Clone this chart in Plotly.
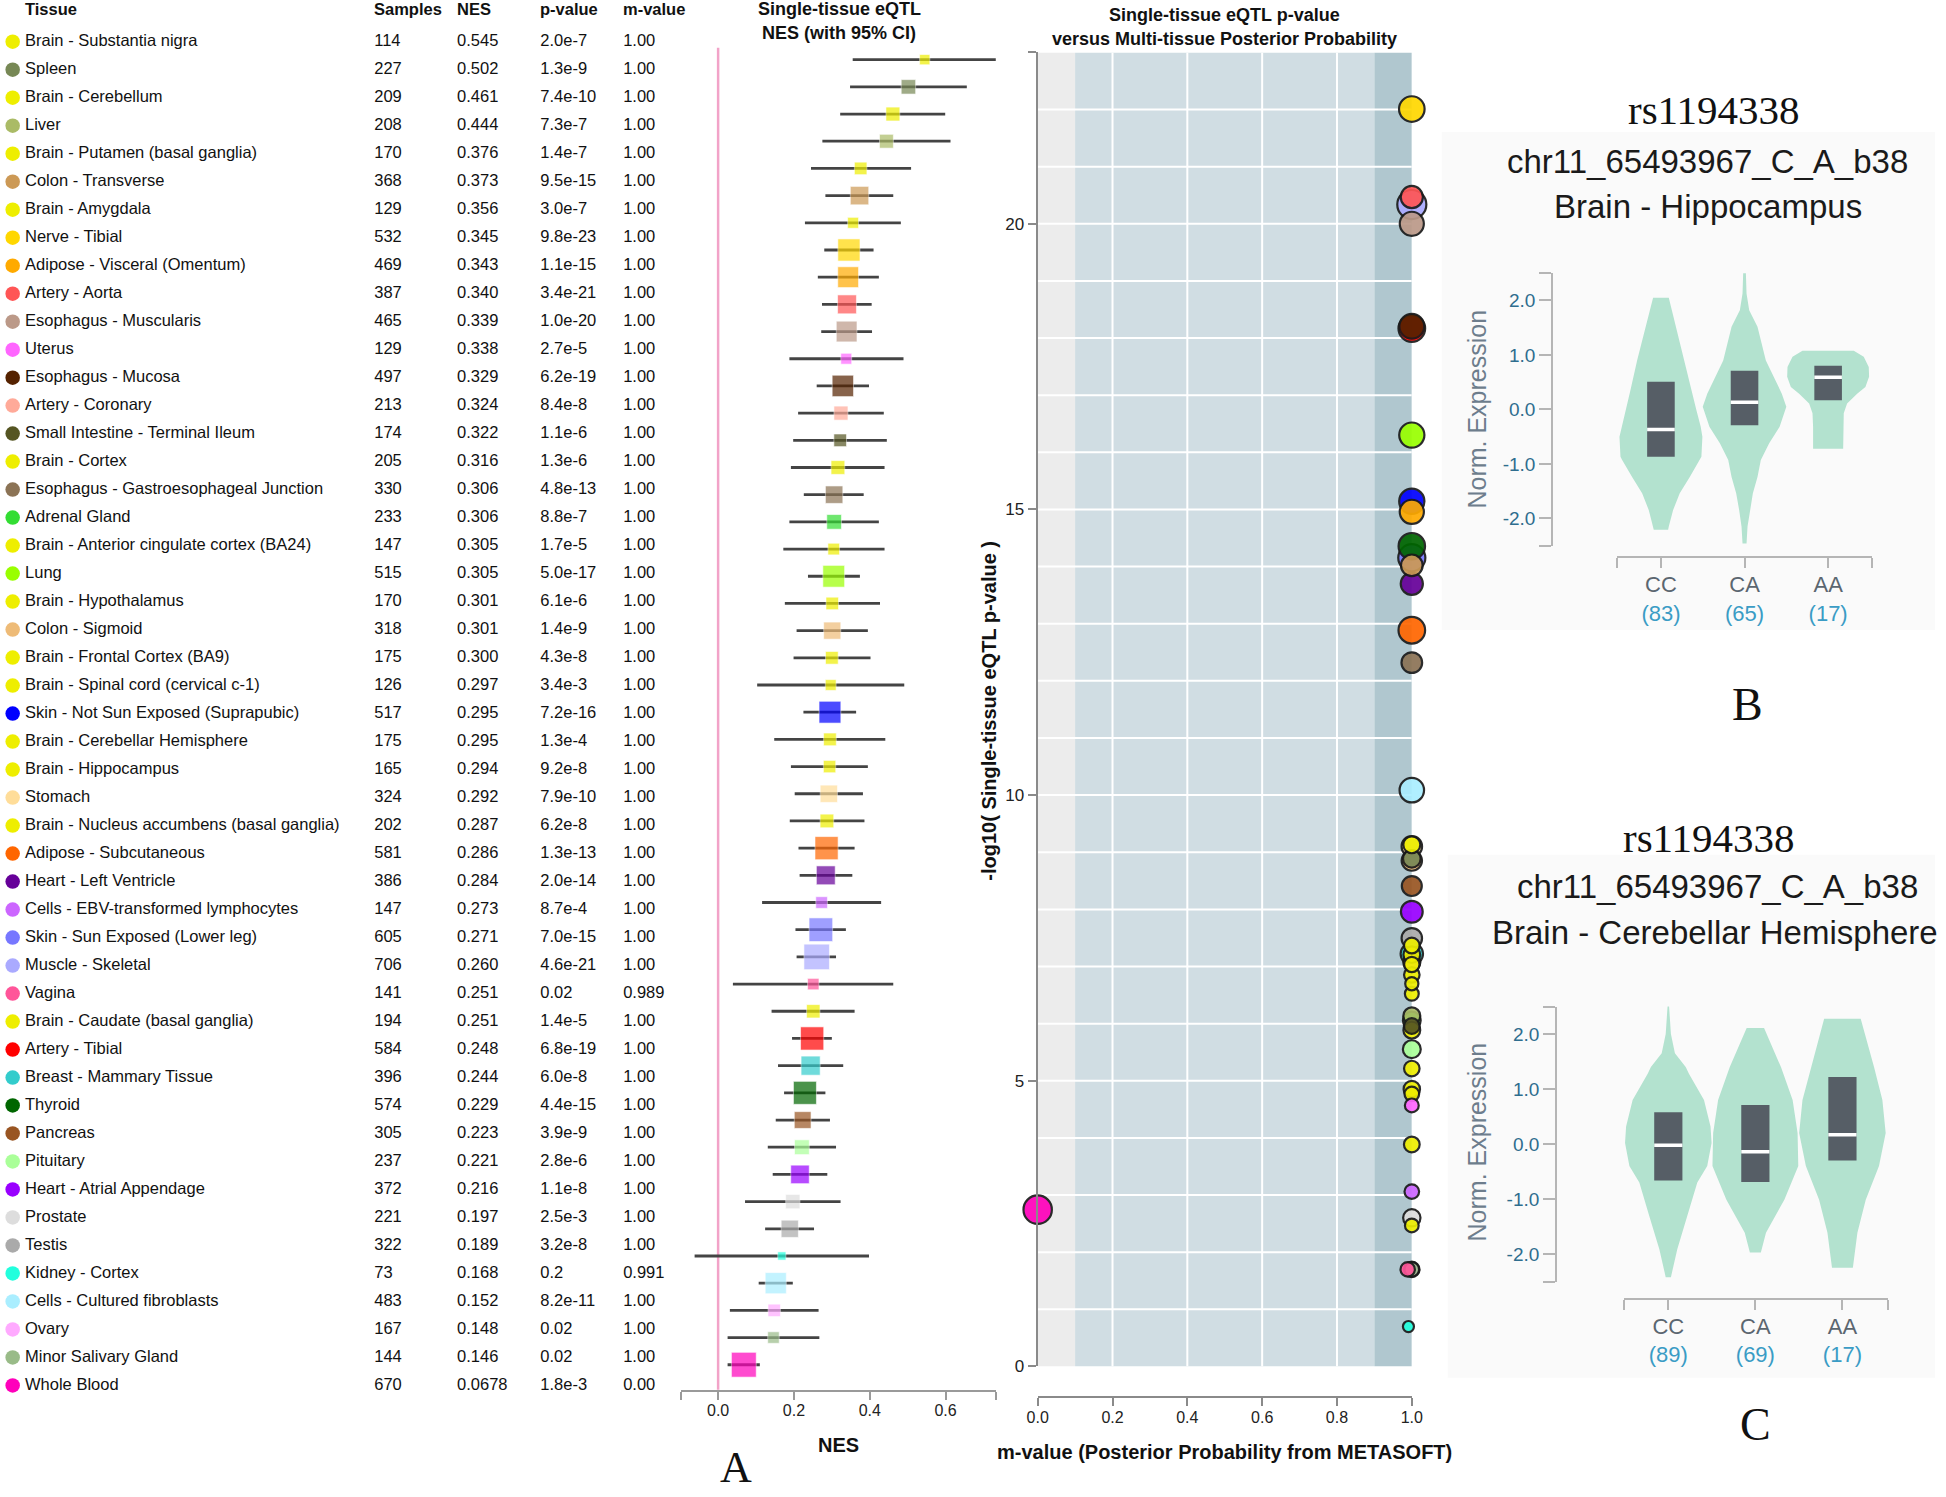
import math
import plotly.graph_objects as go

W, H = 1946, 1497
# empirical correction for how the page is captured (small margin + rescale)
SX, OX, SY = 0.991, 8.0, 0.9935
def px(x): return (x / SX - OX) / W
def py(y): return 1 - (y / SY) / H

FONT = "Arial, Liberation Sans, sans-serif"
SERIF = "Times New Roman, Liberation Serif, serif"

# ---------------- data ----------------
tissues = [
    "Brain - Substantia nigra", "Spleen", "Brain - Cerebellum", "Liver",
    "Brain - Putamen (basal ganglia)", "Colon - Transverse", "Brain - Amygdala",
    "Nerve - Tibial", "Adipose - Visceral (Omentum)", "Artery - Aorta",
    "Esophagus - Muscularis", "Uterus", "Esophagus - Mucosa", "Artery - Coronary",
    "Small Intestine - Terminal Ileum", "Brain - Cortex",
    "Esophagus - Gastroesophageal Junction", "Adrenal Gland",
    "Brain - Anterior cingulate cortex (BA24)", "Lung", "Brain - Hypothalamus",
    "Colon - Sigmoid", "Brain - Frontal Cortex (BA9)",
    "Brain - Spinal cord (cervical c-1)", "Skin - Not Sun Exposed (Suprapubic)",
    "Brain - Cerebellar Hemisphere", "Brain - Hippocampus", "Stomach",
    "Brain - Nucleus accumbens (basal ganglia)", "Adipose - Subcutaneous",
    "Heart - Left Ventricle", "Cells - EBV-transformed lymphocytes",
    "Skin - Sun Exposed (Lower leg)", "Muscle - Skeletal", "Vagina",
    "Brain - Caudate (basal ganglia)", "Artery - Tibial", "Breast - Mammary Tissue",
    "Thyroid", "Pancreas", "Pituitary", "Heart - Atrial Appendage", "Prostate",
    "Testis", "Kidney - Cortex", "Cells - Cultured fibroblasts", "Ovary",
    "Minor Salivary Gland", "Whole Blood",
]
tissue_colors = [
    "#EEEE00", "#778855", "#EEEE00", "#AABB66", "#EEEE00", "#CC9955", "#EEEE00",
    "#FFD700", "#FFAA00", "#FF5555", "#BB9988", "#FF66FF", "#552200", "#FFAA99",
    "#555522", "#EEEE00", "#8B7355", "#33DD33", "#EEEE00", "#99FF00", "#EEEE00",
    "#EEBB77", "#EEEE00", "#EEEE00", "#0000FF", "#EEEE00", "#EEEE00", "#FFDD99",
    "#EEEE00", "#FF6600", "#660099", "#CC66FF", "#7777FF", "#AAAAFF", "#FF5599",
    "#EEEE00", "#FF0000", "#33CCCC", "#006600", "#995522", "#AAFF99", "#9900FF",
    "#DDDDDD", "#AAAAAA", "#22FFDD", "#AAEEFF", "#FFAAFF", "#99BB88", "#FF00BB",
]
samples = [114, 227, 209, 208, 170, 368, 129, 532, 469, 387, 465, 129, 497, 213,
           174, 205, 330, 233, 147, 515, 170, 318, 175, 126, 517, 175, 165, 324,
           202, 581, 386, 147, 605, 706, 141, 194, 584, 396, 574, 305, 237, 372,
           221, 322, 73, 483, 167, 144, 670]
nes_text = ["0.545", "0.502", "0.461", "0.444", "0.376", "0.373", "0.356", "0.345",
            "0.343", "0.340", "0.339", "0.338", "0.329", "0.324", "0.322", "0.316",
            "0.306", "0.306", "0.305", "0.305", "0.301", "0.301", "0.300", "0.297",
            "0.295", "0.295", "0.294", "0.292", "0.287", "0.286", "0.284", "0.273",
            "0.271", "0.260", "0.251", "0.251", "0.248", "0.244", "0.229", "0.223",
            "0.221", "0.216", "0.197", "0.189", "0.168", "0.152", "0.148", "0.146",
            "0.0678"]
pvalue_text = ["2.0e-7", "1.3e-9", "7.4e-10", "7.3e-7", "1.4e-7", "9.5e-15", "3.0e-7",
               "9.8e-23", "1.1e-15", "3.4e-21", "1.0e-20", "2.7e-5", "6.2e-19",
               "8.4e-8", "1.1e-6", "1.3e-6", "4.8e-13", "8.8e-7", "1.7e-5", "5.0e-17",
               "6.1e-6", "1.4e-9", "4.3e-8", "3.4e-3", "7.2e-16", "1.3e-4", "9.2e-8",
               "7.9e-10", "6.2e-8", "1.3e-13", "2.0e-14", "8.7e-4", "7.0e-15",
               "4.6e-21", "0.02", "1.4e-5", "6.8e-19", "6.0e-8", "4.4e-15", "3.9e-9",
               "2.8e-6", "1.1e-8", "2.5e-3", "3.2e-8", "0.2", "8.2e-11", "0.02",
               "0.02", "1.8e-3"]
mvalue_text = ["1.00"] * 34 + ["0.989"] + ["1.00"] * 9 + ["0.991"] + ["1.00"] * 3 + ["0.00"]
ci_low = [0.355, 0.348, 0.322, 0.275, 0.245, 0.283, 0.229, 0.280, 0.263, 0.274,
          0.272, 0.188, 0.260, 0.211, 0.198, 0.192, 0.226, 0.188, 0.172, 0.237,
          0.176, 0.207, 0.199, 0.103, 0.225, 0.148, 0.192, 0.202, 0.189, 0.212,
          0.215, 0.116, 0.204, 0.207, 0.039, 0.141, 0.195, 0.158, 0.174, 0.152,
          0.131, 0.144, 0.071, 0.124, -0.062, 0.107, 0.031, 0.025, 0.025]
ci_high = [0.734, 0.656, 0.599, 0.613, 0.509, 0.462, 0.482, 0.410, 0.424, 0.405,
           0.406, 0.489, 0.398, 0.437, 0.445, 0.439, 0.384, 0.424, 0.439, 0.374,
           0.427, 0.395, 0.402, 0.491, 0.364, 0.441, 0.395, 0.382, 0.386, 0.360,
           0.354, 0.430, 0.337, 0.311, 0.462, 0.360, 0.300, 0.330, 0.283, 0.295,
           0.311, 0.288, 0.323, 0.253, 0.398, 0.197, 0.265, 0.267, 0.110]
table_headers = ["Tissue", "Samples", "NES", "p-value", "m-value"]

nes_ticks = [0.0, 0.2, 0.4, 0.6]
mval_ticks = [0.0, 0.2, 0.4, 0.6, 0.8, 1.0]
logp_ticks = [0, 5, 10, 15, 20]

genotypes = ["CC", "CA", "AA"]
hip_counts = [83, 65, 17]
cer_counts = [89, 69, 17]
expr_ticks = [-2.0, -1.0, 0.0, 1.0, 2.0]

# violin outlines: (levels, half-widths in category units)
hip_violin_y = [
    [2.05, 1.52, 0.90, 0.354, -0.01, -0.32, -0.50, -0.87, -0.93, -1.24, -1.54, -1.85, -2.15, -2.21],
    [2.51, 2.13, 1.82, 1.52, 0.90, 0.29, 0.05, -0.32, -0.62, -0.93, -1.24, -1.54, -1.85, -2.15, -2.46],
    [1.075, 0.965, 0.78, 0.60, 0.41, 0.29, 0.11, -0.07, -0.32, -0.72],
]
hip_violin_w = [
    [0.094, 0.185, 0.285, 0.365, 0.424, 0.476, 0.496, 0.484, 0.464, 0.345, 0.225, 0.145, 0.094, 0.086],
    [0.016, 0.024, 0.056, 0.155, 0.255, 0.446, 0.50, 0.42, 0.295, 0.195, 0.155, 0.10, 0.064, 0.036, 0.024],
    [0.307, 0.426, 0.486, 0.49, 0.446, 0.347, 0.227, 0.187, 0.18, 0.18],
]
hip_q1 = [-0.87, -0.29, 0.17]
hip_med = [-0.37, 0.13, 0.59]
hip_q3 = [0.51, 0.71, 0.80]

cer_violin_y = [
    [2.52, 2.0, 1.65, 1.40, 1.28, 0.80, 0.32, 0.02, -0.40, -0.70, -1.31, -1.91, -2.42],
    [2.11, 1.40, 0.80, 0.20, -0.40, -1.01, -1.61, -1.97],
    [2.28, 1.40, 0.80, 0.20, -0.40, -1.01, -1.61, -2.25],
]
cer_violin_w = [
    [0.008, 0.03, 0.076, 0.20, 0.237, 0.41, 0.485, 0.497, 0.447, 0.333, 0.218, 0.103, 0.03],
    [0.10, 0.294, 0.428, 0.485, 0.493, 0.333, 0.122, 0.063],
    [0.21, 0.363, 0.459, 0.497, 0.42, 0.268, 0.172, 0.12],
]
cer_q1 = [-0.66, -0.69, -0.30]
cer_med = [-0.02, -0.14, 0.17]
cer_q3 = [0.58, 0.71, 1.22]

# ---------------- figure ----------------
n = len(tissues)
rows = list(range(n))
fig = go.Figure()

# ---- table (x axis in target pixels) ----
TAB_RIGHT = 700
fig.add_trace(go.Scatter(x=[9.6] * n, y=rows, mode="markers", cliponaxis=False,
                         marker=dict(color=tissue_colors, size=14.5, line=dict(width=0)),
                         xaxis="x", yaxis="y", hoverinfo="skip"))
col_x = [22.0, 372.0, 455.0, 538.5, 621.5]
col_vals = [tissues, [str(s) for s in samples], nes_text, pvalue_text, mvalue_text]
for cx, vals in zip(col_x, col_vals):
    fig.add_trace(go.Scatter(x=[cx] * n, y=rows, mode="text", cliponaxis=False,
                             text=list(vals), textposition="middle right",
                             textfont=dict(size=16.5, color="#111111", family=FONT),
                             xaxis="x", yaxis="y", hoverinfo="skip"))

# ---- forest plot ----
lx, ly = [], []
for i, (lo, hi) in enumerate(zip(ci_low, ci_high)):
    lx += [lo, hi, None]
    ly += [i, i, None]
fig.add_trace(go.Scatter(x=lx, y=ly, mode="lines", line=dict(color="#444444", width=2.8),
                         xaxis="x2", yaxis="y2", hoverinfo="skip"))
fig.add_trace(go.Scatter(x=[float(v) for v in nes_text], y=rows, mode="markers",
                         marker=dict(symbol="square", color=tissue_colors,
                                     size=[0.96 * math.sqrt(s) for s in samples],
                                     line=dict(color="rgba(255,255,255,0.6)", width=1)),
                         xaxis="x2", yaxis="y2", hoverinfo="skip"))

# ---- m-value vs p-value scatter ----
order = sorted(rows, key=lambda i: -samples[i])
fig.add_trace(go.Scatter(
    x=[float(mvalue_text[i]) for i in order],
    y=[-math.log10(float(pvalue_text[i])) for i in order],
    mode="markers", cliponaxis=False,
    marker=dict(color=[tissue_colors[i] for i in order],
                size=[math.sqrt(samples[i]) + 2.5 for i in order],
                opacity=0.92, line=dict(color="#1a1a1a", width=2.2)),
    xaxis="x3", yaxis="y3", hoverinfo="skip"))

# ---- violins ----
VFILL = "#b3e2cf"
BOXC = "#565e66"
def add_violins(xa, ya, vy, vw, q1, med, q3, bw):
    for c in range(3):
        ys = vy[c]
        ws = vw[c]
        xs = [c - w for w in ws] + [c + w for w in reversed(ws)]
        yy = list(ys) + list(reversed(ys))
        fig.add_trace(go.Scatter(x=xs, y=yy, mode="lines", fill="toself",
                                 fillcolor=VFILL, line=dict(width=0, color=VFILL),
                                 xaxis=xa, yaxis=ya, hoverinfo="skip"))
        fig.add_trace(go.Scatter(x=[c - bw, c + bw, c + bw, c - bw, c - bw],
                                 y=[q1[c], q1[c], q3[c], q3[c], q1[c]],
                                 mode="lines", fill="toself", fillcolor=BOXC,
                                 line=dict(width=0, color=BOXC),
                                 xaxis=xa, yaxis=ya, hoverinfo="skip"))
        fig.add_trace(go.Scatter(x=[c - bw, c + bw], y=[med[c], med[c]], mode="lines",
                                 line=dict(color="white", width=3.5),
                                 xaxis=xa, yaxis=ya, hoverinfo="skip"))

add_violins("x4", "y4", hip_violin_y, hip_violin_w, hip_q1, hip_med, hip_q3, 0.165)
add_violins("x5", "y5", cer_violin_y, cer_violin_w, cer_q1, cer_med, cer_q3, 0.162)

# ---------------- shapes ----------------
shapes = []
shapes.append(dict(type="rect", xref="paper", yref="paper", x0=px(1442), x1=1, y0=py(630), y1=py(132),
                   fillcolor="#fafafa", line=dict(width=0), layer="below"))
shapes.append(dict(type="rect", xref="paper", yref="paper", x0=px(1448), x1=1, y0=py(1378), y1=py(855),
                   fillcolor="#fafafa", line=dict(width=0), layer="below"))
for x0, x1, col in [(0.0, 0.1, "#ececec"), (0.1, 0.9, "#d0dde3"), (0.9, 1.0, "#b0c7cf")]:
    shapes.append(dict(type="rect", xref="x3", yref="y3", x0=x0, x1=x1, y0=0, y1=23,
                       fillcolor=col, line=dict(width=0), layer="below"))
for gx in [0.2, 0.4, 0.6, 0.8]:
    shapes.append(dict(type="line", xref="x3", yref="y3", x0=gx, x1=gx, y0=0, y1=23,
                       line=dict(color="white", width=2), layer="below"))
for gy in range(1, 23):
    shapes.append(dict(type="line", xref="x3", yref="y3", x0=0, x1=1, y0=gy, y1=gy,
                       line=dict(color="white", width=2), layer="below"))
shapes.append(dict(type="line", xref="x2", yref="y2 domain", x0=0, x1=0, y0=0, y1=1,
                   line=dict(color="#f2a3c8", width=2.5), layer="below"))

# ---------------- annotations ----------------
ann = []
def text(x, y, t, size, bold=False, color="#111111", family=FONT, xanchor="center", angle=0):
    ann.append(dict(xref="paper", yref="paper", x=px(x), y=py(y), text=(f"<b>{t}</b>" if bold else t),
                    showarrow=False, xanchor=xanchor, yanchor="middle", textangle=angle,
                    font=dict(size=size, color=color, family=family)))

for cx, head in zip(col_x, table_headers):
    text(cx - 2, 9, head, 16.5, True, xanchor="left")
text(838, 9, "Single-tissue eQTL", 18, True)
text(838, 33, "NES (with 95% CI)", 18, True)
text(837, 1445, "NES", 20, True)
text(1224, 15, "Single-tissue eQTL p-value", 18, True)
text(1224, 39, "versus Multi-tissue Posterior Probability", 18, True)
text(1224, 1452, "m-value (Posterior Probability from METASOFT)", 20, True)
text(988, 711, "-log10( Single-tissue eQTL p-value )", 20, True, angle=-90)
text(735, 1468, "A", 44, family=SERIF)
text(1748, 705, "B", 46, family=SERIF)
text(1756, 1425, "C", 46, family=SERIF)

text(1715, 110, "rs1194338", 41, family=SERIF)
text(1708, 162, "chr11_65493967_C_A_b38", 33, color="#1a1a1a")
text(1709, 207, "Brain - Hippocampus", 33, color="#1a1a1a")
text(1477, 409, "Norm. Expression", 25, color="#6d7d8c", angle=-90)

text(1710, 838, "rs1194338", 41, family=SERIF)
text(1718, 887, "chr11_65493967_C_A_b38", 33, color="#1a1a1a")
text(1716, 933, "Brain - Cerebellar Hemisphere", 33, color="#1a1a1a")
text(1477, 1142, "Norm. Expression", 25, color="#6d7d8c", angle=-90)

def cat_text(counts):
    return [""] + [f"<span style='color:#5b6670'>{g}</span><br><span style='color:#3a9cc5'>({c})</span>"
                   for g, c in zip(genotypes, counts)] + [""]

AX_GRAY = "#b5b5b5"
layout = dict(
    width=W, height=H, margin=dict(l=0, r=0, t=0, b=0), autosize=False,
    paper_bgcolor="white", plot_bgcolor="rgba(0,0,0,0)", showlegend=False,
    font=dict(family=FONT),
    xaxis=dict(domain=[0, px(TAB_RIGHT)], range=[SX * OX, TAB_RIGHT], visible=False),
    yaxis=dict(domain=[py(1399.7), py(27.7)], range=[48.5, -0.5], visible=False),
    xaxis2=dict(domain=[px(679), px(995)], range=[-0.0992, 0.7324], anchor="y2",
                tickvals=[-0.0992] + nes_ticks + [0.7324],
                ticktext=[""] + [f"{t:.1f}" for t in nes_ticks] + [""],
                ticks="outside", ticklen=8, tickwidth=2, tickcolor="#9a9a9a",
                ticklabelstandoff=-3,
                showline=True, linecolor="#9a9a9a", linewidth=2,
                showgrid=False, zeroline=False,
                tickfont=dict(size=16, color="#222222")),
    yaxis2=dict(domain=[py(1390), py(47.7)], range=[48.92, -0.44], visible=False),
    xaxis3=dict(domain=[px(1037), px(1412)], range=[0, 1], anchor="free", position=py(1397.7),
                tickvals=mval_ticks, ticktext=[f"{t:.1f}" for t in mval_ticks],
                ticks="outside", ticklen=8, tickwidth=2, tickcolor="#8a8a8a",
                ticklabelstandoff=-3,
                showline=True, linecolor="#8a8a8a", linewidth=2,
                showgrid=False, zeroline=False,
                tickfont=dict(size=16, color="#222222")),
    yaxis3=dict(domain=[py(1366.7), py(52.4)], range=[0, 23], anchor="x3",
                tickvals=logp_ticks + [23], ticktext=[str(t) for t in logp_ticks] + [""],
                ticks="outside", ticklen=8, tickwidth=2, tickcolor="#8a8a8a",
                showline=True, linecolor="#8a8a8a", linewidth=2,
                showgrid=False, zeroline=False,
                tickfont=dict(size=17, color="#222222")),
    xaxis4=dict(domain=[px(1617.3), px(1873.7)], range=[-0.53, 2.53], anchor="free", position=py(556.7),
                tickvals=[-0.53, 0, 1, 2, 2.53], ticktext=cat_text(hip_counts),
                ticks="outside", ticklen=10, tickwidth=2, tickcolor=AX_GRAY,
                ticklabelstandoff=-2,
                showline=True, linecolor=AX_GRAY, linewidth=2, showgrid=False, zeroline=False,
                tickfont=dict(size=22)),
    yaxis4=dict(domain=[py(545.7), py(273.3)], range=[-2.5, 2.5], anchor="free", position=px(1552.7),
                tickvals=[-2.5] + expr_ticks + [2.5],
                ticktext=[""] + [f"{t:.1f}" for t in expr_ticks] + [""],
                ticks="outside", ticklen=12, tickwidth=2, tickcolor=AX_GRAY,
                showline=True, linecolor=AX_GRAY, linewidth=2, showgrid=False, zeroline=False,
                tickfont=dict(size=19, color="#2e6d8e")),
    xaxis5=dict(domain=[px(1624.6), px(1889)], range=[-0.51, 2.52], anchor="free", position=py(1299.4),
                tickvals=[-0.51, 0, 1, 2, 2.52], ticktext=cat_text(cer_counts),
                ticks="outside", ticklen=10, tickwidth=2, tickcolor=AX_GRAY,
                ticklabelstandoff=-3,
                showline=True, linecolor=AX_GRAY, linewidth=2, showgrid=False, zeroline=False,
                tickfont=dict(size=22)),
    yaxis5=dict(domain=[py(1281.8), py(1006.8)], range=[-2.5, 2.5], anchor="free", position=px(1556.7),
                tickvals=[-2.5] + expr_ticks + [2.5],
                ticktext=[""] + [f"{t:.1f}" for t in expr_ticks] + [""],
                ticks="outside", ticklen=12, tickwidth=2, tickcolor=AX_GRAY,
                showline=True, linecolor=AX_GRAY, linewidth=2, showgrid=False, zeroline=False,
                tickfont=dict(size=19, color="#2e6d8e")),
    shapes=shapes,
    annotations=ann,
)
fig.update_layout(**layout)
fig.write_html(
    "out.html",
    config={"displayModeBar": False, "responsive": False},
    post_script=("document.body.style.margin='0px';document.body.style.padding='0px';"
                 "document.body.style.overflow='hidden';"
                 "document.documentElement.style.overflow='hidden';"),
)
